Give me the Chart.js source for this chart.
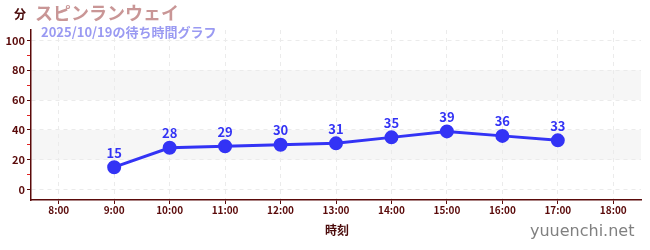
<!DOCTYPE html>
<html>
<head>
<meta charset="utf-8">
<script src="https://cdn.jsdelivr.net/npm/chart.js@4/dist/chart.umd.min.js"></script>
<style>
  html, body { margin: 0; padding: 0; background: #fff; }
  #wrap { position: relative; width: 650px; height: 250px; font-family: "Noto Sans CJK JP", "Noto Sans", sans-serif; }
  canvas { position: absolute; left: 0; top: 0; }
  .txt { position: absolute; white-space: nowrap; font-weight: bold; line-height: 1; }
  #unit { left: 14px; top: 8px; font-size: 12px; color: #4a0a0a; }
  #title { left: 35px; top: 3px; font-size: 18px; color: #c99696; }
  #subtitle { left: 41px; top: 25px; font-size: 13px; color: #9a9af2; }
  #xtitle { left: 325px; top: 224px; font-size: 12px; color: #4a0a0a; }
  #site { left: 530px; top: 223px; font-size: 16px; font-weight: normal; color: #808080; font-family: "DejaVu Sans", sans-serif; }
</style>
</head>
<body>
<div id="wrap">
  <canvas id="chart" width="650" height="250"></canvas>
  <div class="txt" id="unit">分</div>
  <div class="txt" id="title">スピンランウェイ</div>
  <div class="txt" id="subtitle">2025/10/19の待ち時間グラフ</div>
  <div class="txt" id="xtitle">時刻</div>
  <div class="txt" id="site">yuuenchi.net</div>
</div>
<script>
const hours = ["8:00", "9:00", "10:00", "11:00", "12:00", "13:00", "14:00", "15:00", "16:00", "17:00", "18:00"]
const waits = [null, 15, 28, 29, 30, 31, 35, 39, 36, 33, null]
const yTicks = [0, 10, 20, 30, 40, 50, 60, 70, 80, 90, 100]
const bands = [[20, 40], [60, 80]]

const axisColor = "#5a0a0a"
const lineColor = "#3333f5"
const gridColor = "#ebebeb"

// light gray bands behind the grid
const bandPlugin = {
  id: "bands",
  beforeDraw(chart) {
    const { ctx, chartArea, scales } = chart
    ctx.save()
    ctx.fillStyle = "#f6f6f6"
    for (const [lo, hi] of bands) {
      const y1 = scales.y.getPixelForValue(hi)
      const y2 = scales.y.getPixelForValue(lo)
      ctx.fillRect(chartArea.left, y1, chartArea.right - chartArea.left, y2 - y1)
    }
    ctx.restore()
  },
}

// value labels above the points
const labelPlugin = {
  id: "valueLabels",
  afterDatasetsDraw(chart) {
    const { ctx } = chart
    const meta = chart.getDatasetMeta(0)
    ctx.save()
    ctx.font = "bold 13px 'Noto Sans CJK JP', 'Noto Sans', sans-serif"
    ctx.fillStyle = lineColor
    ctx.textAlign = "center"
    ctx.textBaseline = "bottom"
    meta.data.forEach((pt, i) => {
      const v = waits[i]
      if (v == null) return
      ctx.fillText(String(v), pt.x, pt.y - 8)
    })
    ctx.restore()
  },
}

const tickFont = { size: 11, weight: "bold", family: "'Noto Sans CJK JP', 'Noto Sans', sans-serif" }

new Chart(document.getElementById("chart"), {
  type: "line",
  data: {
    labels: hours,
    datasets: [
      {
        data: waits,
        borderColor: lineColor,
        backgroundColor: lineColor,
        borderWidth: 3,
        pointRadius: 5.5,
        pointHoverRadius: 5.5,
        tension: 0,
      },
    ],
  },
  options: {
    responsive: false,
    animation: false,
    layout: { padding: { top: 30, right: 9, left: 0, bottom: 0 } },
    plugins: { legend: { display: false }, tooltip: { enabled: false } },
    scales: {
      x: {
        type: "category",
        offset: true,
        grid: { offset: false, color: gridColor, tickColor: axisColor, tickLength: 4 },
        border: { color: axisColor, width: 1.5, dash: [4, 4] },
        ticks: { color: axisColor, font: { ...tickFont, size: 10 }, padding: 0, maxRotation: 0, autoSkip: false },
        afterFit(scale) { scale.height = 50 },
      },
      y: {
        min: -7,
        max: 107,
        grid: {
          color: (c) => (c.tick && c.tick.value % 20 === 0 ? gridColor : "rgba(0,0,0,0)"),
          tickColor: (c) => (c.tick && c.tick.value % 20 === 0 ? axisColor : "#e02020"),
          tickLength: 4,
        },
        border: { color: axisColor, width: 1.5, dash: [4, 4] },
        ticks: {
          color: axisColor,
          font: tickFont,
          padding: 2,
          callback: (v) => (v % 20 === 0 ? String(v) : ""),
        },
        afterBuildTicks(scale) {
          scale.ticks = yTicks.map((v) => ({ value: v }))
        },
        afterFit(scale) { scale.width = 31 },
      },
    },
  },
  plugins: [bandPlugin, labelPlugin],
})
</script>
</body>
</html>
